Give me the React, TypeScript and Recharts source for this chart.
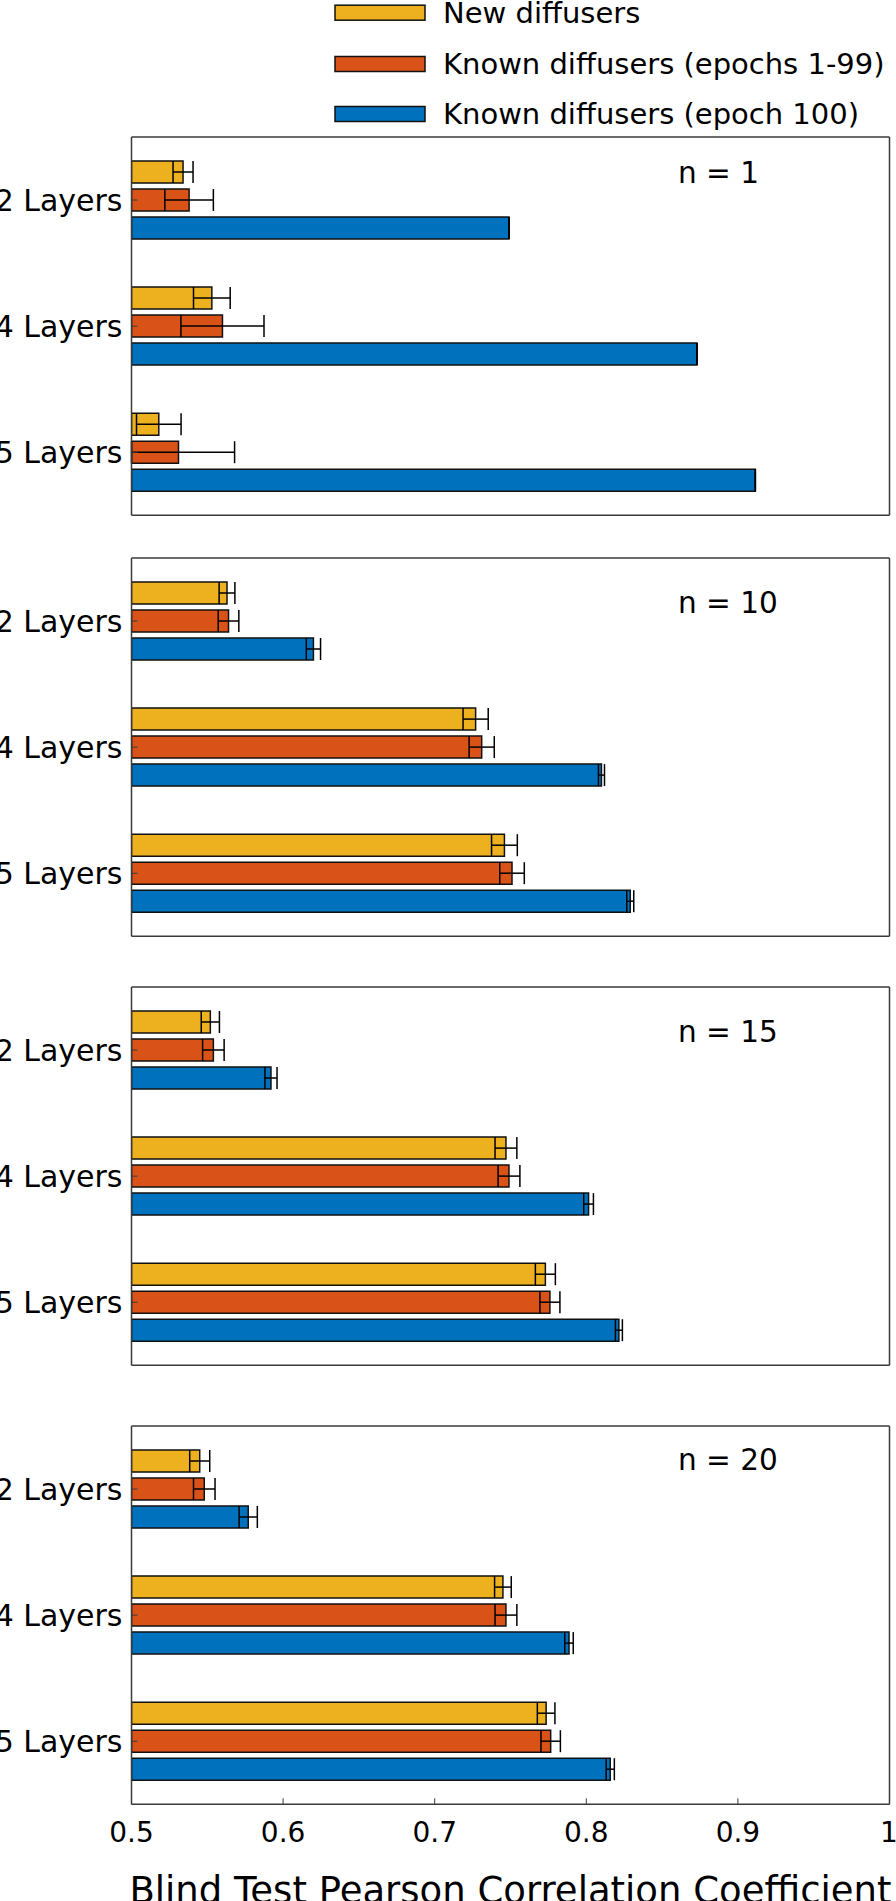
import { Bar, BarChart, ErrorBar, XAxis, YAxis } from "recharts";

const LAYERS = ["2 Layers", "4 Layers", "5 Layers"];
const SERIES_NAMES = [
  "New diffusers",
  "Known diffusers (epochs 1-99)",
  "Known diffusers (epoch 100)",
];
const PANEL_LABELS = ["n = 1", "n = 10", "n = 15", "n = 20"];
const X_TICKS = [0.5, 0.6, 0.7, 0.8, 0.9, 1];
const X_TITLE = "Blind Test Pearson Correlation Coefficient";

// n = 1
const N1_NEW = [0.534, 0.553, 0.518];
const N1_NEW_ERR = [0.0066, 0.0121, 0.0147];
const N1_EARLY = [0.538, 0.56, 0.531];
const N1_EARLY_ERR = [0.016, 0.0274, 0.037];
const N1_LAST = [0.749, 0.873, 0.9115];
const N1_LAST_ERR = [0, 0, 0];

// n = 10
const N10_NEW = [0.563, 0.727, 0.746];
const N10_NEW_ERR = [0.0052, 0.0083, 0.0085];
const N10_EARLY = [0.564, 0.731, 0.751];
const N10_EARLY_ERR = [0.0068, 0.0083, 0.0081];
const N10_LAST = [0.62, 0.81, 0.829];
const N10_LAST_ERR = [0.0047, 0.002, 0.0023];

// n = 15
const N15_NEW = [0.552, 0.747, 0.773];
const N15_NEW_ERR = [0.006, 0.0072, 0.0066];
const N15_EARLY = [0.554, 0.749, 0.776];
const N15_EARLY_ERR = [0.0071, 0.0072, 0.0066];
const N15_LAST = [0.592, 0.8015, 0.8215];
const N15_LAST_ERR = [0.004, 0.0032, 0.0023];

// n = 20
const N20_NEW = [0.545, 0.745, 0.7735];
const N20_NEW_ERR = [0.0066, 0.0055, 0.0058];
const N20_EARLY = [0.548, 0.747, 0.7765];
const N20_EARLY_ERR = [0.0071, 0.0072, 0.0064];
const N20_LAST = [0.577, 0.7886, 0.8158];
const N20_LAST_ERR = [0.006, 0.0028, 0.0027];

const PANELS = [
  { vals: [N1_NEW, N1_EARLY, N1_LAST], errs: [N1_NEW_ERR, N1_EARLY_ERR, N1_LAST_ERR] },
  { vals: [N10_NEW, N10_EARLY, N10_LAST], errs: [N10_NEW_ERR, N10_EARLY_ERR, N10_LAST_ERR] },
  { vals: [N15_NEW, N15_EARLY, N15_LAST], errs: [N15_NEW_ERR, N15_EARLY_ERR, N15_LAST_ERR] },
  { vals: [N20_NEW, N20_EARLY, N20_LAST], errs: [N20_NEW_ERR, N20_EARLY_ERR, N20_LAST_ERR] },
];

const X_MIN = 0.5;
const COLORS = ["#EDB120", "#D95319", "#0072BD"];
const FONT = "'DejaVu Sans', sans-serif";
const AXIS_COLOR = "#3a3a3a";

const W = 896;
const H = 1901;
const PLOT_LEFT = 131.5;
const PLOT_RIGHT = 889.5;
const PLOT_H = 378.3;
const PANEL_TOPS = [136.7, 558.3, 986.7, 1426];
const LABEL_BASELINES = [183.3, 612.7, 1041.7, 1470];
const LEGEND_CENTERS = [12.7, 64, 114];

// error bars are cut at the axis minimum, like the clipped original
function errRange(val: number, err: number) {
  return [Math.min(err, val - X_MIN), err];
}

function buildRows(panel: { vals: number[][]; errs: number[][] }) {
  return LAYERS.map((layer, i) => ({
    layer,
    s0: panel.vals[0][i],
    e0: errRange(panel.vals[0][i], panel.errs[0][i]),
    s1: panel.vals[1][i],
    e1: errRange(panel.vals[1][i], panel.errs[1][i]),
    s2: panel.vals[2][i],
    e2: errRange(panel.vals[2][i], panel.errs[2][i]),
  }));
}

function Panel({ index }: { index: number }) {
  const isLast = index === PANELS.length - 1;
  const data = buildRows(PANELS[index]);
  const top = 10;
  const bottom = isLast ? 70 : 10;
  const height = top + PLOT_H + bottom;
  const axisLine = { stroke: AXIS_COLOR, strokeWidth: 1.5 };

  return (
    <div style={{ position: "absolute", left: 0, top: PANEL_TOPS[index] - top }}>
      <BarChart
        width={W}
        height={height}
        data={data}
        layout="vertical"
        margin={{ top: top - 1, right: W - PLOT_RIGHT - 1, bottom: isLast ? 0 : bottom - 1, left: 0 }}
        barSize={22}
        barGap={6}
      >
        <XAxis
          xAxisId="t"
          orientation="top"
          type="number"
          domain={[X_MIN, 1]}
          allowDataOverflow
          ticks={X_TICKS}
          height={1}
          stroke={AXIS_COLOR}
          axisLine={axisLine}
          tick={false}
          tickLine={isLast}
          tickSize={-6}
        />
        <XAxis
          xAxisId="b"
          orientation="bottom"
          type="number"
          domain={[X_MIN, 1]}
          allowDataOverflow
          ticks={X_TICKS}
          height={isLast ? bottom : 1}
          stroke={AXIS_COLOR}
          axisLine={axisLine}
          tick={isLast ? { fill: "#000", fontSize: 28, fontFamily: FONT } : false}
          tickLine={isLast}
          tickSize={-6}
          tickMargin={24}
        />
        <YAxis
          yAxisId="l"
          type="category"
          dataKey="layer"
          width={PLOT_LEFT}
          stroke={AXIS_COLOR}
          axisLine={axisLine}
          tick={{ fill: "#000", fontSize: 30, fontFamily: FONT }}
          tickSize={-6}
          tickMargin={15}
        />
        <YAxis
          yAxisId="r"
          orientation="right"
          type="category"
          dataKey="layer"
          width={1}
          stroke={AXIS_COLOR}
          axisLine={axisLine}
          tick={false}
          tickSize={-6}
        />
        {COLORS.map((color, s) => (
          <Bar
            key={s}
            xAxisId="b"
            yAxisId="l"
            dataKey={`s${s}`}
            name={SERIES_NAMES[s]}
            fill={color}
            stroke="#111"
            strokeWidth={1.5}
            isAnimationActive={false}
          >
            <ErrorBar dataKey={`e${s}`} direction="x" width={11} stroke="#000" strokeWidth={1.5} />
          </Bar>
        ))}
      </BarChart>
    </div>
  );
}

export default function App() {
  return (
    <div
      style={{
        position: "absolute",
        left: 0,
        top: 0,
        width: W,
        height: H,
        overflow: "hidden",
        background: "#fff",
      }}
    >
      {PANELS.map((_, i) => (
        <Panel key={i} index={i} />
      ))}
      <svg
        width={W}
        height={H}
        style={{ position: "absolute", left: 0, top: 0, pointerEvents: "none" }}
        fontFamily={FONT}
      >
        {SERIES_NAMES.map((name, s) => (
          <g key={name}>
            <rect
              x={335}
              y={LEGEND_CENTERS[s] - 7.5}
              width={90}
              height={15}
              fill={COLORS[s]}
              stroke="#111"
              strokeWidth={1.5}
            />
            <text x={443} y={LEGEND_CENTERS[s] + 10} fontSize={29} fill="#000">
              {name}
            </text>
          </g>
        ))}
        {PANEL_LABELS.map((label, i) => (
          <text key={label} x={678} y={LABEL_BASELINES[i]} fontSize={29.5} fill="#000">
            {label}
          </text>
        ))}
        <text x={(PLOT_LEFT + PLOT_RIGHT) / 2} y={1903} fontSize={37} textAnchor="middle" fill="#000">
          {X_TITLE}
        </text>
      </svg>
    </div>
  );
}
